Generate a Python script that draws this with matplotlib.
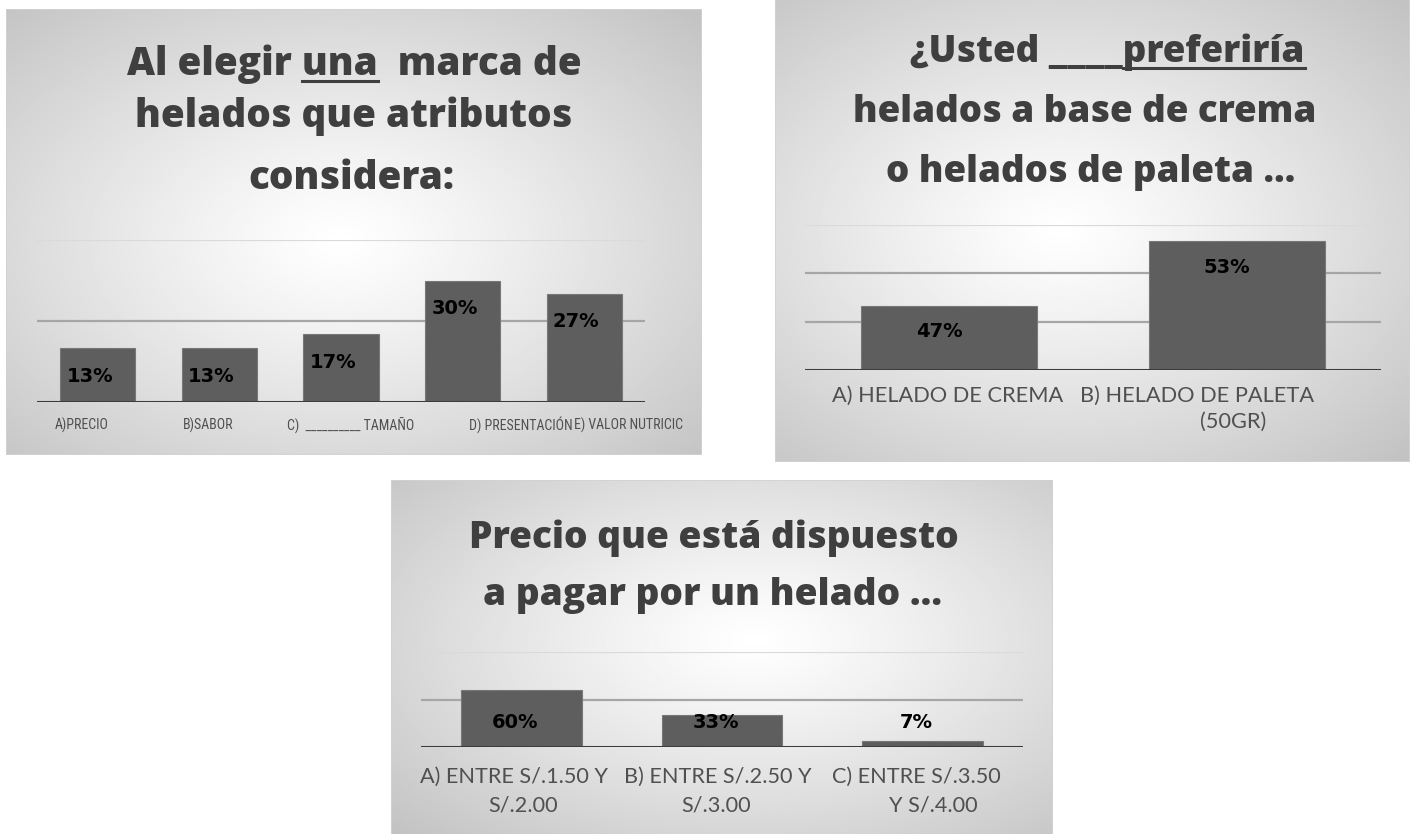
import numpy as np
import matplotlib
matplotlib.use("Agg")
import matplotlib.pyplot as plt
from matplotlib import font_manager
from matplotlib.transforms import ScaledTranslation, Bbox
from matplotlib.patches import Rectangle
from matplotlib.lines import Line2D

W, H = 1415, 834

# --- data (percent of 30 answers) ---
titles1 = ["Al elegir una  marca de", "helados que atributos", "considera:"]
cats1 = ["A)PRECIO", "B)SABOR", "C)  __________ TAMAÑO", "D) PRESENTACIÓN", "E) VALOR NUTRICIC"]
vals1 = [13.33, 13.33, 16.67, 30.0, 26.67]

titles2 = ["¿Usted ____preferiría", "helados a base de crema", "o helados de paleta …"]
cats2 = ["A) HELADO DE CREMA", "B) HELADO DE PALETA\n(50GR)"]
vals2 = [46.67, 53.33]

titles3 = ["Precio que está dispuesto", "a pagar por un helado …"]
cats3 = ["A) ENTRE S/.1.50 Y\nS/.2.00", "B) ENTRE S/.2.50 Y\nS/.3.00", "C) ENTRE S/.3.50\nY S/.4.00"]
vals3 = [60.0, 33.33, 6.67]


def pick(*names):
	for n in names:
		try:
			font_manager.findfont(font_manager.FontProperties(family=n), fallback_to_default=False)
			return n
		except ValueError:
			pass
	return "DejaVu Sans"


TITLE_FONT = pick("Open Sans", "Liberation Sans")
LABEL_FONT = pick("Lato", "Open Sans", "Liberation Sans")
NARROW_FONT = pick("Liberation Sans Narrow", "Roboto Condensed", "DejaVu Sans")

TITLE_C = "#3f3f3f"
LABEL_C = "#505050"
BAR_C = "#5e5e5e"
TW = 800  # title weight

fig = plt.figure(figsize=(W / 100, H / 100), dpi=100)
fig.patch.set_facecolor("white")
R = fig.canvas.get_renderer()


def px_rect(x0, y0, x1, y1):
	return [x0 / W, 1 - y1 / H, (x1 - x0) / W, (y1 - y0) / H]


def background(x0, y0, x1, y1, cx, cy):
	bg = fig.add_axes(px_rect(x0, y0, x1, y1), zorder=0)
	xx, yy = np.meshgrid(np.linspace(0, 1, 300), np.linspace(0, 1, 200))
	dx = (xx - cx) / max(cx, 1 - cx)
	dy = (yy - cy) / max(cy, 1 - cy)
	r = np.clip(np.sqrt(dx ** 2 + dy ** 2) / np.sqrt(2), 0, 1)
	img = 1 - 0.24 * r ** 1.15
	bg.imshow(img, cmap="gray", vmin=0, vmax=1, extent=(0, 1, 0, 1), aspect="auto", origin="upper")
	bg.add_patch(Rectangle((0, 0), 1, 1, transform=bg.transAxes, fill=False, edgecolor="#d2d2d2", lw=1.2))
	bg.set_xlim(0, 1)
	bg.set_ylim(0, 1)
	bg.axis("off")


def text_w(s, fs, **kw):
	t = fig.text(0, 0, s, fontsize=fs, **kw)
	w = t.get_window_extent(R).width
	t.remove()
	return w


def title_lines(lines, spans, bases):
	# one common size, fitted to the reference line widths
	kw = dict(family=TITLE_FONT, weight=TW)
	sizes = [30 * (b - a) / text_w(s, 30, **kw) for s, (a, b) in zip(lines, spans)]
	fs = float(np.median(sizes))
	out = []
	for s, (a, b), y in zip(lines, spans, bases):
		fig.text((a + b) / 2 / W, 1 - y / H, s, ha="center", va="baseline", fontsize=fs,
			color=TITLE_C, zorder=5, **kw)
		out.append((fs, (a + b) / 2 - text_w(s, fs, **kw) / 2))
	return out


def underline(line, prefix, word, base):
	fs, x0 = line
	kw = dict(family=TITLE_FONT, weight=TW)
	xs = x0 + text_w(prefix, fs, **kw)
	xe = x0 + text_w(prefix + word, fs, **kw)
	fig.add_artist(Line2D([xs / W, xe / W], [1 - (base + 6) / H] * 2, transform=fig.transFigure,
		color=TITLE_C, lw=2.2, zorder=5))


def chart(x0, y0, x1, y1, vals, ylim, grid, width):
	ax = fig.add_axes(px_rect(x0, y0, x1, y1), zorder=2)
	ax.patch.set_alpha(0)
	n = len(vals)
	for g in grid[:-1]:
		ax.axhline(g, color="#a6a6a6", lw=1.6, zorder=1)
	ax.axhline(grid[-1], color="#dadada", lw=1.6, zorder=1)
	ax.bar(range(n), vals, width=width, bottom=0, color=BAR_C, edgecolor="#787878", lw=0.8, zorder=2)
	ax.axhline(ylim[0], color="#3c3c3c", lw=2.2, zorder=3)
	ax.set_xlim(-0.5, n - 0.5)
	ax.set_ylim(*ylim)
	ax.axis("off")
	return ax


def value_labels(ax, vals, drop, dx, floor=None):
	y0, y1 = ax.get_ylim()
	ppu = ax.get_position().height * H / (y1 - y0)
	for i, v in enumerate(vals):
		ypx = (v - y0) * ppu - drop
		if floor is not None:
			ypx = max(ypx, floor)
		ax.annotate("%d%%" % round(v), xy=(i, y0), xytext=(dx, ypx), textcoords="offset pixels",
			ha="center", va="center", fontsize=14, weight="bold", family="DejaVu Sans",
			color="black", zorder=6)


def cat_labels(ax, cats, dys, dxs, fs, ha="center", family=None):
	# every line of a category label is its own text, baseline placed in pixels below the axis
	tr = ax.get_xaxis_transform()
	for i, c in enumerate(cats):
		for k, line in enumerate(c.split("\n")):
			off = ScaledTranslation(dxs[i][k] / 100, -dys[k] / 100, fig.dpi_scale_trans)
			ax.text(i, 0, line, transform=tr + off, ha=ha, va="baseline",
				fontsize=fs, family=family, color=LABEL_C, zorder=6)


# ---------------- panel 1 ----------------
background(6, 9, 702, 455, 0.48, 0.52)
t1 = title_lines(titles1, [(133, 576), (135, 572), (248, 455)], [75, 127, 189])
underline(t1[0], "Al elegir ", "una", 75)
ax1 = chart(37, 240, 645, 402, vals1, (0, 40), [20, 40], 0.62)
value_labels(ax1, vals1, 28, -8)
# labels overflow into each other, as in the reference: start near the bar, never overlap,
# and the last one is cut at the panel edge
fs1 = 10
lefts = [-43, -37, -54, 6, -10]
tr1 = ax1.get_xaxis_transform()
prev_end = -1e9
for i, c in enumerate(cats1):
	cx = ax1.transData.transform((i, 0))[0]
	left = max(cx + lefts[i], prev_end + 1)
	off = ScaledTranslation((left - cx) / 100, -28 / 100, fig.dpi_scale_trans)
	t = ax1.text(i, 0, c, transform=tr1 + off, ha="left", va="baseline", fontsize=fs1,
		family=NARROW_FONT, color=LABEL_C, zorder=6)
	t.set_clip_box(Bbox.from_extents(0, 0, 698, H))
	t.set_clip_on(True)
	prev_end = left + text_w(c, fs1, family=NARROW_FONT)

# ---------------- panel 2 ----------------
background(775, -2, 1410, 462, 0.45, 0.5)
t2 = title_lines(titles2, [(929, 1286), (853, 1317), (880, 1301)], [62, 122, 182])
underline(t2[0], "¿Usted ____", "preferiría", 62)
ax2 = chart(805, 225, 1381, 370, vals2, (40, 55), [45, 50, 55], 0.61)
value_labels(ax2, vals2, 26, -10)
fs2 = 30 * 230 / text_w(cats2[0], 30, family=LABEL_FONT)
cat_labels(ax2, cats2, [32, 58], [[-1], [-40, -4]], fs2, family=LABEL_FONT)

# ---------------- panel 3 ----------------
background(391, 480, 1053, 836, 0.55, 0.45)
title_lines(titles3, [(472, 955), (480, 945)], [548, 605])
ax3 = chart(421, 652, 1023, 747, vals3, (0, 100), [50, 100], 0.6)
value_labels(ax3, vals3, 32, -6, floor=24)
fs3 = 30 * 187 / text_w("A) ENTRE S/.1.50 Y", 30, family=LABEL_FONT)
cat_labels(ax3, cats3, [36, 65], [[-7, 2], [-4, -6], [-6, 11]], fs3, family=LABEL_FONT)

fig.savefig("out.png", dpi=100)
